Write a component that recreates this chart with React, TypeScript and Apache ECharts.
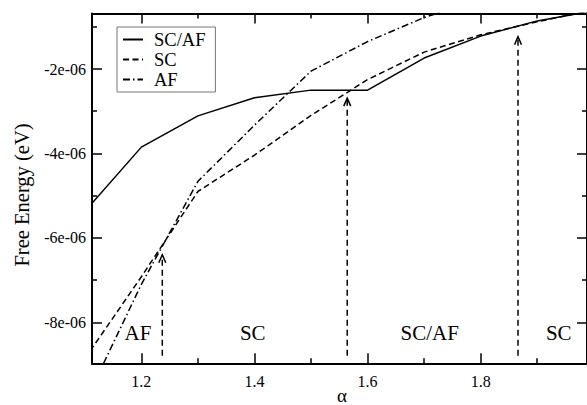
import React, { useEffect, useRef } from "react";
import * as echarts from "echarts";

// Free energy (eV) of the three ordered states versus alpha
const alpha = [1.1, 1.2, 1.3, 1.4, 1.5, 1.6, 1.7, 1.8, 1.9, 2.0];
const scAf = [-5.37e-6, -3.85e-6, -3.11e-6, -2.68e-6, -2.5e-6, -2.5e-6, -1.74e-6, -1.22e-6, -0.86e-6, -0.62e-6];
const sc = [-8.86e-6, -6.92e-6, -4.9e-6, -4.04e-6, -3.1e-6, -2.25e-6, -1.6e-6, -1.19e-6, -0.88e-6, -0.6e-6];
const afAlpha = [1.1, 1.2, 1.3, 1.4, 1.5, 1.6, 1.7, 1.8];
const af = [-9.9e-6, -7.1e-6, -4.66e-6, -3.33e-6, -2.05e-6, -1.35e-6, -0.78e-6, -0.35e-6];

// Phase boundaries (arrows) and phase names along the bottom
const boundaryAlpha = [1.237, 1.564, 1.866];
const boundaryTip = [-6.4e-6, -2.69e-6, -1.235e-6];
const boundaryBase = -8.79e-6;
const phaseNames = ["AF", "SC", "SC/AF", "SC"];
const phaseAlpha = [1.194, 1.397, 1.71, 1.938];
const phaseLevel = -8.25e-6;

// Axis ticks
const xMajor = [1.2, 1.4, 1.6, 1.8];
const xMinor = [1.3, 1.5, 1.7, 1.9];
const xTickLabels = ["1.2", "1.4", "1.6", "1.8"];
const yMajor = [-8e-6, -6e-6, -4e-6, -2e-6];
const yMinor = [-7e-6, -5e-6, -3e-6, -1e-6];
const yTickLabels = ["-8e-06", "-6e-06", "-4e-06", "-2e-06"];

const X_MIN = 1.1127;
const X_MAX = 1.988;
const Y_MIN = -8.97e-6;
const Y_MAX = -0.685e-6;

const FONT = "Liberation Serif";
const INK = "#000";

const labelFor = (values: number[], labels: string[]) => (v: number) => {
  const i = values.findIndex((t) => Math.abs(t - v) <= Math.abs(t) * 1e-6);
  return i >= 0 ? labels[i] : "";
};

function xAxisDef(position: "bottom" | "top", ticks: number[], len: number, showLine: boolean, showLabels: boolean) {
  return {
    type: "value",
    position,
    min: X_MIN,
    max: X_MAX,
    axisLine: { show: showLine, onZero: false, lineStyle: { color: INK, width: 2 } },
    axisTick: { show: true, inside: true, length: len, customValues: ticks, lineStyle: { color: INK, width: 1.5 } },
    axisLabel: showLabels
      ? {
          show: true,
          customValues: ticks,
          formatter: labelFor(xMajor, xTickLabels),
          margin: 10,
          fontFamily: FONT,
          fontSize: 16,
          color: INK,
        }
      : { show: false },
    splitLine: { show: false },
  };
}

function yAxisDef(position: "left" | "right", ticks: number[], len: number, showLine: boolean, showLabels: boolean) {
  return {
    type: "value",
    position,
    min: Y_MIN,
    max: Y_MAX,
    axisLine: { show: showLine, onZero: false, lineStyle: { color: INK, width: 2 } },
    axisTick: { show: true, inside: true, length: len, customValues: ticks, lineStyle: { color: INK, width: 1.5 } },
    axisLabel: showLabels
      ? {
          show: true,
          customValues: ticks,
          formatter: labelFor(yMajor, yTickLabels),
          margin: 6,
          fontFamily: FONT,
          fontSize: 16,
          color: INK,
        }
      : { show: false },
    splitLine: { show: false },
  };
}

export default function App() {
  const ref = useRef<HTMLDivElement>(null);

  useEffect(() => {
    if (!ref.current) return;
    const chart = echarts.init(ref.current, undefined, { renderer: "svg" });

    const option: any = {
      animation: false,
      backgroundColor: "#fff",
      grid: { left: 92, right: -3, top: 13.5, bottom: 41.7, containLabel: false },
      xAxis: [
        xAxisDef("bottom", xMajor, 10, true, true),
        xAxisDef("bottom", xMinor, 5, false, false),
        xAxisDef("top", xMajor, 10, true, false),
        xAxisDef("top", xMinor, 5, false, false),
      ],
      yAxis: [
        yAxisDef("left", yMajor, 10, true, true),
        yAxisDef("left", yMinor, 5, false, false),
        yAxisDef("right", yMajor, 10, true, false),
        yAxisDef("right", yMinor, 5, false, false),
      ],
      legend: {
        data: ["SC/AF", "SC", "AF"],
        orient: "vertical",
        left: 117,
        top: 27,
        padding: [3, 10, 3, 5],
        itemWidth: 20,
        itemHeight: 12,
        itemGap: 1,
        borderColor: "#777",
        borderWidth: 1,
        backgroundColor: "#fff",
        itemStyle: { opacity: 0 },
        textStyle: { fontFamily: FONT, fontSize: 18.5, color: INK, padding: [0, 0, 0, 6] },
      },
      series: [
        {
          name: "SC/AF",
          type: "line",
          data: alpha.map((a, i) => [a, scAf[i]]),
          showSymbol: false,
          symbol: "none",
          lineStyle: { color: INK, width: 1.5, type: "solid" },
          itemStyle: { color: INK },
          z: 3,
        },
        {
          name: "SC",
          type: "line",
          data: alpha.map((a, i) => [a, sc[i]]),
          showSymbol: false,
          symbol: "none",
          lineStyle: { color: INK, width: 1.5, type: [6, 3.5] },
          itemStyle: { color: INK },
          z: 3,
        },
        {
          name: "AF",
          type: "line",
          data: afAlpha.map((a, i) => [a, af[i]]),
          showSymbol: false,
          symbol: "none",
          lineStyle: { color: INK, width: 1.5, type: [7, 3, 1.5, 3] },
          itemStyle: { color: INK },
          z: 3,
        },
        {
          type: "custom",
          silent: true,
          clip: true,
          data: boundaryAlpha.map((a, i) => [a, boundaryBase, boundaryTip[i]]),
          renderItem: (_p: any, api: any) => {
            const b = api.coord([api.value(0), api.value(1)]);
            const t = api.coord([api.value(0), api.value(2)]);
            return {
              type: "group",
              children: [
                {
                  type: "line",
                  shape: { x1: b[0], y1: b[1], x2: t[0], y2: t[1] },
                  style: { stroke: INK, lineWidth: 1.5, lineDash: [6, 4], fill: null },
                },
                {
                  type: "polyline",
                  shape: {
                    points: [
                      [t[0] - 3.5, t[1] + 8],
                      [t[0], t[1]],
                      [t[0] + 3.5, t[1] + 8],
                    ],
                  },
                  style: { stroke: INK, lineWidth: 1.5, fill: null },
                },
              ],
            };
          },
        },
        {
          type: "custom",
          silent: true,
          data: phaseAlpha.map((a, i) => [a, phaseLevel, i]),
          renderItem: (_p: any, api: any) => {
            const c = api.coord([api.value(0), api.value(1)]);
            return {
              type: "text",
              x: c[0],
              y: c[1],
              style: {
                text: phaseNames[api.value(2)],
                fontFamily: FONT,
                fontSize: 21,
                fill: INK,
                align: "center",
                verticalAlign: "middle",
              },
            };
          },
        },
      ],
      graphic: [
        {
          type: "text",
          x: 21.5,
          y: 195,
          rotation: Math.PI / 2,
          style: {
            text: "Free Energy (eV)",
            fontFamily: FONT,
            fontSize: 20.5,
            fill: INK,
            align: "center",
            verticalAlign: "middle",
          },
        },
        {
          type: "text",
          x: 342,
          y: 395.5,
          style: {
            text: "α",
            fontFamily: FONT,
            fontSize: 19,
            fill: INK,
            align: "center",
            verticalAlign: "middle",
          },
        },
      ],
    };

    chart.setOption(option);
    return () => chart.dispose();
  }, []);

  return (
    <div
      ref={ref}
      style={{ position: "absolute", left: 0, top: 0, width: 587, height: 405, background: "#fff", overflow: "hidden" }}
    />
  );
}
